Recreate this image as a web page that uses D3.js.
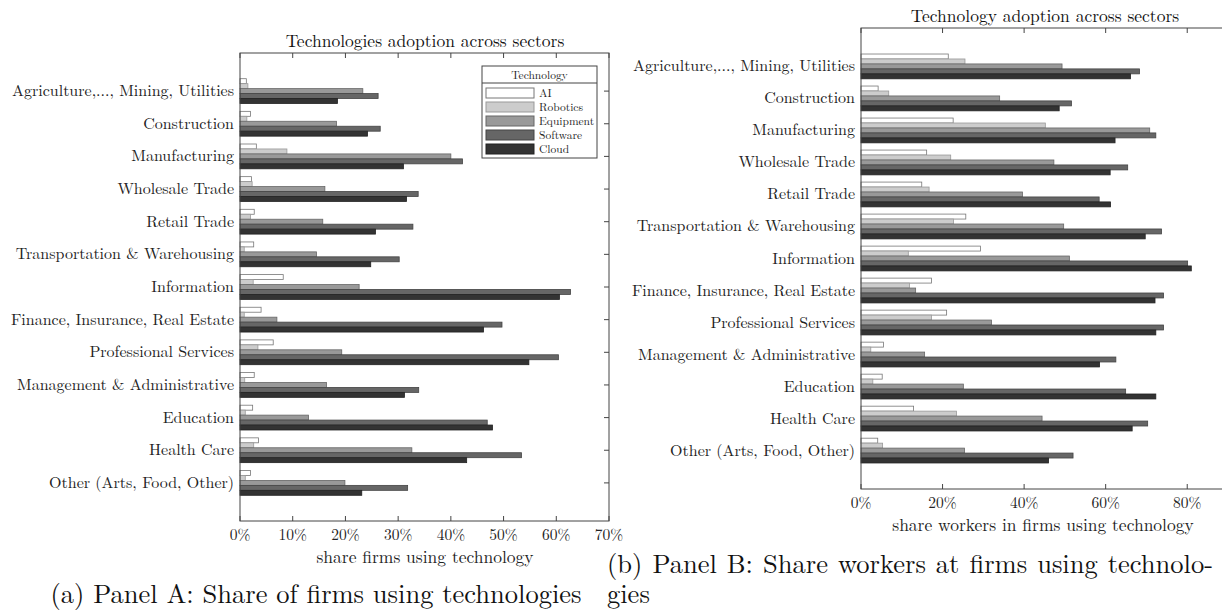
<!DOCTYPE html>
<html>
<head>
<meta charset="utf-8">
<script src="https://cdn.jsdelivr.net/npm/d3@7"></script>
<style>
  body { margin: 0; background: #fff; }
</style>
</head>
<body>
<svg id="chart" width="1222" height="610"></svg>
<script>
var sectors = [
  "Agriculture,..., Mining, Utilities", "Construction", "Manufacturing",
  "Wholesale Trade", "Retail Trade", "Transportation & Warehousing",
  "Information", "Finance, Insurance, Real Estate", "Professional Services",
  "Management & Administrative", "Education", "Health Care",
  "Other (Arts, Food, Other)"
];
var technologies = ["AI", "Robotics", "Equipment", "Software", "Cloud"];
var techColors = ["#ffffff", "#cccccc", "#999999", "#666666", "#333333"];
var techStrokes = ["#777777", "#999999", "#666666", "#444444", "#222222"];

// Panel A: share of firms (%), one array per technology, in sector order
var firmsAI        = [1.2, 2.0, 3.1, 2.2, 2.7, 2.6, 8.2, 4.0, 6.3, 2.7, 2.4, 3.5, 2.0];
var firmsRobotics  = [1.5, 1.3, 8.9, 2.3, 2.0, 0.8, 2.5, 0.8, 3.4, 0.9, 1.0, 2.6, 1.0];
var firmsEquipment = [23.3, 18.3, 40.0, 16.1, 15.7, 14.5, 22.6, 7.0, 19.3, 16.4, 13.0, 32.6, 19.9];
var firmsSoftware  = [26.2, 26.6, 42.2, 33.8, 32.8, 30.2, 62.7, 49.7, 60.4, 33.9, 46.9, 53.4, 31.8];
var firmsCloud     = [18.5, 24.2, 31.0, 31.6, 25.7, 24.8, 60.6, 46.2, 54.8, 31.2, 47.9, 43.0, 23.1];

// Panel B: share of workers (%)
var workersAI        = [21.4, 4.2, 22.6, 16.1, 14.9, 25.7, 29.3, 17.3, 21.0, 5.5, 5.2, 12.9, 4.1];
var workersRobotics  = [25.5, 6.8, 45.2, 22.0, 16.7, 22.7, 11.6, 11.9, 17.3, 2.4, 2.9, 23.4, 5.3];
var workersEquipment = [49.3, 34.0, 70.8, 47.3, 39.6, 49.7, 51.1, 13.4, 32.0, 15.6, 25.1, 44.4, 25.4];
var workersSoftware  = [68.3, 51.6, 72.3, 65.4, 58.4, 73.7, 80.1, 74.2, 74.2, 62.5, 64.9, 70.3, 52.0];
var workersCloud     = [66.1, 48.6, 62.3, 61.1, 61.2, 69.7, 81.0, 72.1, 72.3, 58.5, 72.3, 66.5, 46.0];

var xTicksA = [0, 0.1, 0.2, 0.3, 0.4, 0.5, 0.6, 0.7];
var xTicksB = [0, 0.2, 0.4, 0.6, 0.8];

var font = "'Latin Modern Roman', 'CMU Serif', 'Liberation Serif', serif";
var svg = d3.select("#chart").attr("font-family", font);
var pct = d3.format(".0%");

function drawPanel(opt) {
  var series = opt.series;
  var x = d3.scaleLinear().domain(opt.xDomain).range([opt.left, opt.right]);
  var y = d3.scalePoint().domain(sectors).range([opt.top, opt.bottom]).padding(opt.pad);
  var sub = d3.scaleBand().domain(technologies).range([-12.4, 12.4]);

  var g = svg.append("g");

  // bars
  sectors.forEach(function(s, i) {
    g.selectAll(null)
      .data(technologies)
      .enter().append("rect")
        .attr("x", x(0))
        .attr("y", function(t) { return y(s) + sub(t); })
        .attr("width", function(t, j) { return x(series[j][i] / 100) - x(0); })
        .attr("height", sub.bandwidth())
        .attr("fill", function(t, j) { return techColors[j]; })
        .attr("stroke", function(t, j) { return techStrokes[j]; })
        .attr("stroke-width", 0.8);
  });

  // frame
  g.append("rect")
    .attr("x", opt.left).attr("y", opt.top)
    .attr("width", x(opt.xDomain[1]) - opt.left)
    .attr("height", opt.bottom - opt.top)
    .attr("fill", "none").attr("stroke", "#444").attr("stroke-width", 1);

  // x ticks top & bottom, labels at bottom
  var ticks = g.selectAll(null).data(opt.xTicks).enter();
  ticks.append("line")
    .attr("x1", x).attr("x2", x)
    .attr("y1", opt.top).attr("y2", opt.top + 5)
    .attr("stroke", "#444");
  ticks.append("line")
    .attr("x1", x).attr("x2", x)
    .attr("y1", opt.bottom).attr("y2", opt.bottom - 5)
    .attr("stroke", "#444");
  ticks.append("text")
    .attr("x", x).attr("y", opt.bottom + 19)
    .attr("text-anchor", "middle")
    .attr("font-size", 15.5).attr("fill", "#222")
    .text(pct);

  // y ticks (right side, inward) and sector labels
  if (opt.rightTicks) {
    g.selectAll(null).data(sectors).enter().append("line")
      .attr("x1", opt.right).attr("x2", opt.right - 5)
      .attr("y1", y).attr("y2", y)
      .attr("stroke", "#444");
  }
  g.selectAll(null).data(sectors).enter().append("text")
    .attr("x", opt.left - 6)
    .attr("y", function(d) { return y(d) + 5; })
    .attr("text-anchor", "end")
    .attr("font-size", 16).attr("fill", "#222")
    .text(function(d) { return d; });

  g.append("text")
    .attr("x", opt.titleX).attr("y", opt.top - 6)
    .attr("text-anchor", "middle")
    .attr("font-size", 17.5).attr("fill", "#111")
    .text(opt.title);

  g.append("text")
    .attr("x", opt.labelX).attr("y", opt.bottom + opt.labelDy)
    .attr("text-anchor", "middle")
    .attr("font-size", 17.5).attr("fill", "#222")
    .text(opt.xLabel);

  return g;
}

var panelA = drawPanel({
  series: [firmsAI, firmsRobotics, firmsEquipment, firmsSoftware, firmsCloud],
  xDomain: [0, 0.7], xTicks: xTicksA,
  left: 240, right: 609, top: 53, bottom: 521, pad: 1.167,
  rightTicks: true,
  title: "Technologies adoption across sectors", titleX: 425,
  xLabel: "share firms using technology", labelX: 425, labelDy: 42
});

drawPanel({
  series: [workersAI, workersRobotics, workersEquipment, workersSoftware, workersCloud],
  xDomain: [0, 0.9], xTicks: xTicksB,
  left: 861, right: 1228, top: 28, bottom: 489, pad: 1.2,
  rightTicks: false,
  title: "Technology adoption across sectors", titleX: 1045,
  xLabel: "share workers in firms using technology", labelX: 1043, labelDy: 42
});

// legend for panel A
var lg = panelA.append("g").attr("transform", "translate(482,66)");
lg.append("rect")
  .attr("width", 115).attr("height", 92)
  .attr("fill", "#fff").attr("stroke", "#444");
lg.append("line")
  .attr("x1", 0).attr("x2", 115).attr("y1", 17).attr("y2", 17)
  .attr("stroke", "#444");
lg.append("text")
  .attr("x", 57.5).attr("y", 12.5).attr("text-anchor", "middle")
  .attr("font-size", 11.5).attr("fill", "#222")
  .text("Technology");
var items = lg.selectAll(null).data(technologies).enter().append("g")
  .attr("transform", function(d, i) { return "translate(4," + (22 + i * 14) + ")"; });
items.append("rect")
  .attr("width", 48).attr("height", 10)
  .attr("fill", function(d, i) { return techColors[i]; })
  .attr("stroke", function(d, i) { return techStrokes[i]; });
items.append("text")
  .attr("x", 53).attr("y", 9)
  .attr("font-size", 11.5).attr("fill", "#222")
  .text(function(d) { return d; });

// captions
svg.append("text")
  .attr("x", 316).attr("y", 603)
  .attr("text-anchor", "middle")
  .attr("font-size", 26.5).attr("fill", "#111")
  .text("(a) Panel A: Share of firms using technologies");
// line 1 of caption (b) is justified to the subfigure width, like LaTeX does
var capB = svg.append("text")
  .attr("x", 607).attr("y", 573)
  .attr("font-size", 26.5).attr("fill", "#111")
  .text("(b) Panel B: Share workers at firms using technolo-");
var spaces = capB.text().split(" ").length - 1;
var natural = capB.node().getComputedTextLength();
capB.attr("word-spacing", Math.max(0, (1213 - 607 - natural) / spaces));
svg.append("text")
  .attr("x", 607).attr("y", 603)
  .attr("font-size", 26.5).attr("fill", "#111")
  .text("gies");
</script>
</body>
</html>
